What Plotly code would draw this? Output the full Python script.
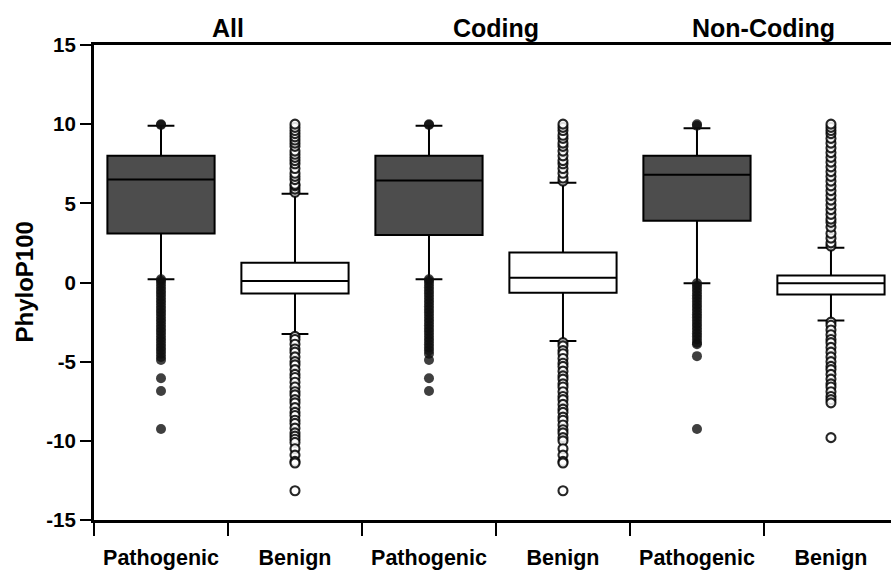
import plotly.graph_objects as go

categories = ["Pathogenic", "Benign", "Pathogenic", "Benign", "Pathogenic", "Benign"]
groups = ["All", "Coding", "Non-Coding"]
kinds = ["Pathogenic", "Benign", "Pathogenic", "Benign", "Pathogenic", "Benign"]

q1 = [3.1, -0.7, 3.0, -0.65, 3.9, -0.75]
median = [6.5, 0.1, 6.45, 0.3, 6.8, -0.05]
q3 = [8.0, 1.25, 8.0, 1.9, 8.0, 0.45]
lowerfence = [0.2, -3.25, 0.2, -3.7, -0.05, -2.4]
upperfence = [9.9, 5.6, 9.9, 6.3, 9.75, 2.2]

out_path_all = [10.0, 9.95, 0.2, 0.1, -0.1, -0.3, -0.5, -0.7, -0.9, -1.1, -1.3, -1.5, -1.7, -1.9,
                -2.1, -2.3, -2.5, -2.7, -2.9, -3.1, -3.3, -3.5, -3.7, -3.9, -4.1, -4.3, -4.5,
                -4.7, -4.9, -6.05, -6.85, -9.25]
out_benign_all = [5.7, 5.9, 6.1, 6.2, 6.5, 6.7, 6.9, 7.2, 7.5, 7.7, 7.9, 8.1, 8.3, 8.6, 8.8, 9.0,
                  9.2, 9.4, 9.6, 9.8, 10.0,
                  -3.4, -3.6, -3.9, -4.2, -4.4, -4.7, -5.0, -5.2, -5.5, -5.8, -6.0, -6.3, -6.6,
                  -6.9, -7.1, -7.4, -7.6, -7.9, -8.2, -8.4, -8.7, -8.9, -9.2, -9.5, -9.7, -9.9,
                  -10.1, -10.5, -10.9, -11.3, -11.4, -13.15]
out_path_coding = [10.0, 9.95, 0.2, 0.1, -0.1, -0.3, -0.5, -0.7, -0.9, -1.1, -1.3, -1.5, -1.7,
                   -1.9, -2.1, -2.3, -2.5, -2.7, -2.9, -3.1, -3.3, -3.5, -3.7, -3.9, -4.1, -4.3,
                   -4.5, -4.9, -6.05, -6.85]
out_benign_coding = [6.4, 6.6, 6.9, 7.2, 7.5, 7.7, 8.0, 8.3, 8.6, 8.8, 9.1, 9.3, 9.6, 9.8, 10.0,
                     -3.8, -4.0, -4.3, -4.5, -4.8, -5.1, -5.3, -5.6, -5.9, -6.1, -6.4, -6.6,
                     -6.9, -7.2, -7.4, -7.7, -8.0, -8.2, -8.5, -8.7, -9.0, -9.3, -9.5, -9.8,
                     -10.0, -10.5, -10.9, -11.3, -11.4, -13.15]
out_path_nc = [10.0, 9.9, -0.05, -0.2, -0.4, -0.6, -0.8, -1.0, -1.2, -1.4, -1.6, -1.8, -2.0,
               -2.2, -2.4, -2.6, -2.8, -3.0, -3.2, -3.4, -3.6, -3.8, -3.9, -4.65, -9.25]
out_benign_nc = [2.3, 2.5, 2.8, 3.1, 3.5, 3.8, 4.0, 4.3, 4.6, 4.9, 5.2, 5.5, 5.8, 6.1, 6.4,
                 6.7, 7.0, 7.3, 7.6, 7.9, 8.2, 8.5, 8.8, 9.1, 9.4, 9.6, 9.8, 10.0,
                 -2.5, -2.7, -3.0, -3.3, -3.6, -3.8, -4.1, -4.4, -4.7, -5.0, -5.3, -5.5, -5.8,
                 -6.1, -6.4, -6.6, -6.9, -7.2, -7.4, -7.6, -9.8]
outliers = [out_path_all, out_benign_all, out_path_coding, out_benign_coding,
            out_path_nc, out_benign_nc]

y_ticks = [-15, -10, -5, 0, 5, 10, 15]

FONT = "Liberation Sans, Arial, sans-serif"

fig = go.Figure()
for i, kind in enumerate(kinds):
    dark = kind == "Pathogenic"
    fig.add_trace(go.Box(
        x=[i], q1=[q1[i]], median=[median[i]], q3=[q3[i]],
        lowerfence=[lowerfence[i]], upperfence=[upperfence[i]],
        width=0.8, whiskerwidth=0.25, boxpoints=False,
        fillcolor="#4d4d4d" if dark else "white",
        line=dict(color="black", width=2),
        showlegend=False, hoverinfo="skip",
    ))
for i, kind in enumerate(kinds):
    dark = kind == "Pathogenic"
    pts = outliers[i]
    if dark:
        marker = dict(size=10, color="rgba(15,15,15,0.8)", line=dict(width=0))
    else:
        marker = dict(size=9, color="rgba(255,255,255,0.85)",
                      line=dict(color="rgba(0,0,0,0.85)", width=2.1))
    fig.add_trace(go.Scatter(
        x=[i] * len(pts), y=pts, mode="markers", marker=marker,
        showlegend=False, hoverinfo="skip",
    ))

for g, name in enumerate(groups):
    fig.add_annotation(
        x=2 * g + 0.5, xref="x", y=1.036, yref="paper", yanchor="middle",
        text="<b>%s</b>" % name, showarrow=False,
        font=dict(family=FONT, size=25, color="black"),
    )

fig.add_annotation(
    x=-(94 - 24) / 797, xref="paper", y=0.5, yref="paper",
    text="<b>PhyloP100</b>", textangle=-90, showarrow=False,
    xanchor="center", yanchor="middle",
    font=dict(family=FONT, size=24, color="black"),
)

fig.update_layout(
    width=891, height=572,
    margin=dict(l=94, r=0, t=45, b=52),
    plot_bgcolor="white", paper_bgcolor="white",
    font=dict(family=FONT, color="black"),
    xaxis=dict(
        range=[-0.5, 5.448], tickmode="array", tickvals=list(range(6)),
        ticktext=["<b>%s</b>" % c for c in categories],
        ticks="", showgrid=False, zeroline=False,
        showline=True, linecolor="black", linewidth=3, mirror=True,
        tickfont=dict(family=FONT, size=21.5, color="black"),
        ticklabelstandoff=16,
        minor=dict(tickmode="array", tickvals=[-0.5, 0.5, 1.5, 2.5, 3.5, 4.5],
                   ticks="outside", ticklen=13, tickwidth=2, tickcolor="black",
                   showgrid=False),
    ),
    yaxis=dict(
        range=[-15, 15], tickmode="array", tickvals=y_ticks,
        ticktext=["<b>%d</b>" % v for v in y_ticks],
        ticks="outside", ticklen=11, tickwidth=2, tickcolor="black",
        showgrid=False, zeroline=False,
        showline=True, linecolor="black", linewidth=3,
        tickfont=dict(family=FONT, size=20.5, color="black"),
    ),
)

fig.write_html("out.html")
